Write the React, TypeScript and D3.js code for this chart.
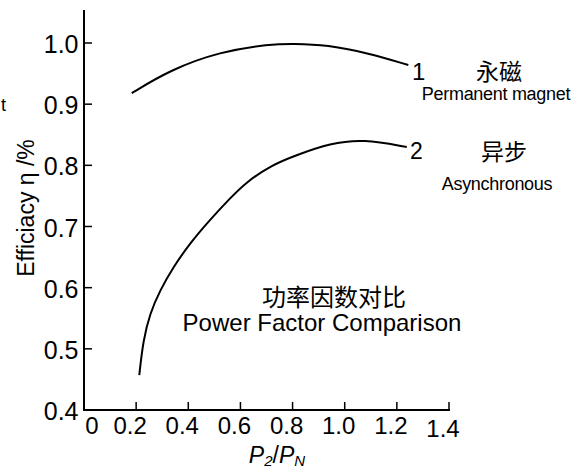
import React from "react";
import * as d3 from "d3";

// values
const xTicks = [0, 0.2, 0.4, 0.6, 0.8, 1.0, 1.2, 1.4];
const xTickLabels = ["0", "0.2", "0.4", "0.6", "0.8", "1.0", "1.2", "1.4"];
const yTicks = [0.4, 0.5, 0.6, 0.7, 0.8, 0.9, 1.0];
const yTickLabels = ["0.4", "0.5", "0.6", "0.7", "0.8", "0.9", "1.0"];

// curve 1: permanent magnet
const pmX = [0.183, 0.33, 0.522, 0.713, 0.803, 0.931, 1.097, 1.244];
const pmY = [0.918, 0.956, 0.986, 0.998, 0.999, 0.997, 0.983, 0.964];
// curve 2: asynchronous
const asX = [0.212, 0.227, 0.253, 0.292, 0.343, 0.407, 0.483, 0.56, 0.618, 0.717, 0.816, 0.944, 1.071, 1.238];
const asY = [0.457, 0.514, 0.558, 0.596, 0.634, 0.673, 0.711, 0.746, 0.771, 0.8, 0.817, 0.836, 0.843, 0.83];

const W = 586;
const H = 468;
const FONT = "'Liberation Sans', Arial, sans-serif";
const CJK = "'Noto Sans CJK SC', sans-serif";

const App: React.FC = () => {
  const x = d3.scaleLinear().domain([0, 1.4]).range([84, 449]);
  const y = d3.scaleLinear().domain([0.4, 1.0]).range([410, 43]);
  const yTop = y(1.054);

  // b-spline smooths out the small reading errors in the points
  const line = d3
    .line<[number, number]>()
    .x((d) => x(d[0]))
    .y((d) => y(d[1]))
    .curve(d3.curveBasis);

  const pmPath = line(pmX.map((v, i) => [v, pmY[i]] as [number, number])) || "";
  const asPath = line(asX.map((v, i) => [v, asY[i]] as [number, number])) || "";

  return (
    <svg
      width={W}
      height={H}
      style={{ position: "fixed", left: 0, top: 0, background: "#fff" }}
      fontFamily={FONT}
    >
      {/* axes */}
      <line x1={x(0)} x2={x(0)} y1={yTop} y2={y(0.4) + 1} stroke="#000" strokeWidth={2} />
      <line x1={x(0) - 1} x2={x(1.4) + 1} y1={y(0.4)} y2={y(0.4)} stroke="#000" strokeWidth={2} />

      {yTicks.map((t, i) => (
        <g key={"y" + t}>
          <line x1={x(0)} x2={x(0) + 8} y1={y(t)} y2={y(t)} stroke="#000" strokeWidth={1.5} />
          <text x={78.5} y={y(t)} dy="0.4em" textAnchor="end" fontSize={25}>
            {yTickLabels[i]}
          </text>
        </g>
      ))}

      {xTicks.map((t, i) => (
        <g key={"x" + t}>
          {t > 0 && (
            <line x1={x(t)} x2={x(t)} y1={y(0.4)} y2={y(0.4) - 8} stroke="#000" strokeWidth={1.5} />
          )}
          <text
            x={t === 0 ? x(t) + 8 : x(t) - 6}
            y={t === 1.4 ? 437 : 434}
            textAnchor="middle"
            fontSize={24}
          >
            {xTickLabels[i]}
          </text>
        </g>
      ))}

      {/* axis titles */}
      <text x={277} y={463} textAnchor="middle" fontSize={23}>
        <tspan fontStyle="italic">P</tspan>
        <tspan fontSize={15} dy={3} fontStyle="italic">2</tspan>
        <tspan dy={-3}>/</tspan>
        <tspan fontStyle="italic">P</tspan>
        <tspan fontSize={15} dy={3} fontStyle="italic">N</tspan>
      </text>
      <text
        transform={`translate(34,208) rotate(-90)`}
        textAnchor="middle"
        fontSize={23}
      >
        Efficiacy η /%
      </text>
      <text x={1} y={111} fontSize={18}>t</text>

      {/* curves */}
      <path d={pmPath} fill="none" stroke="#000" strokeWidth={2} />
      <path d={asPath} fill="none" stroke="#000" strokeWidth={2} />

      {/* curve labels */}
      <text x={412} y={80} fontSize={24}>1</text>
      <text x={499} y={80} textAnchor="middle" fontSize={23} fontFamily={CJK}>永磁</text>
      <text x={496} y={100} textAnchor="middle" fontSize={18} letterSpacing={-0.3}>
        Permanent magnet
      </text>
      <text x={410} y={159} fontSize={23}>2</text>
      <text x={504} y={160} textAnchor="middle" fontSize={23} fontFamily={CJK}>异步</text>
      <text x={497} y={190} textAnchor="middle" fontSize={18} letterSpacing={-0.3}>
        Asynchronous
      </text>

      {/* title */}
      <text x={334} y={306} textAnchor="middle" fontSize={24} fontFamily={CJK}>
        功率因数对比
      </text>
      <text x={322} y={331} textAnchor="middle" fontSize={24}>
        Power Factor Comparison
      </text>
    </svg>
  );
};

export default App;
